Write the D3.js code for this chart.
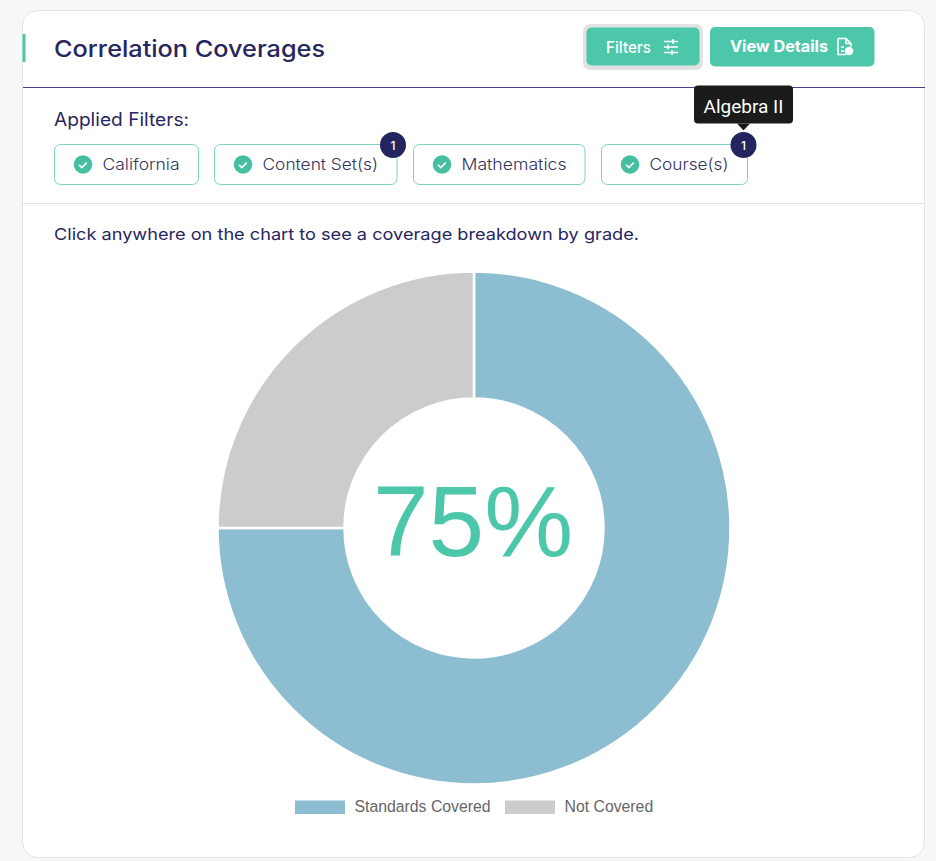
<!DOCTYPE html>
<html>
<head>
<meta charset="utf-8">
<script src="https://cdn.jsdelivr.net/npm/d3@7"></script>
<style>
html, body { margin: 0; padding: 0; background: #f7f7f7; overflow: hidden; }
text { font-family: Inter, "Open Sans", sans-serif; }
</style>
</head>
<body>
<div id="chart"></div>
<script>
// chart values
const categories = ["Standards Covered", "Not Covered"];
const coverage = [75, 25];
const centerLabel = "75%";
const filterNames = ["California", "Content Set(s)", "Mathematics", "Course(s)"];
const filterCounts = [null, 1, null, 1];

const navy = "#27265f", teal = "#4dc7aa";

const svg = d3.select("#chart").append("svg")
    .attr("width", 936)
    .attr("height", 861)
    .style("display", "block");

// card
svg.append("rect")
    .attr("x", 22.5).attr("y", 10.5)
    .attr("width", 902).attr("height", 847)
    .attr("rx", 15)
    .attr("fill", "#fff")
    .attr("stroke", "#e4e4e6");

svg.append("rect").attr("x", 22.5).attr("y", 34).attr("width", 3).attr("height", 28).attr("fill", teal);
svg.append("line").attr("x1", 23).attr("x2", 925).attr("y1", 87.5).attr("y2", 87.5).attr("stroke", "#44438a");
svg.append("line").attr("x1", 23).attr("x2", 925).attr("y1", 203.5).attr("y2", 203.5).attr("stroke", "#e2e2ea");

function label(x, y, str, size, weight, color, len) {
    const t = svg.append("text")
        .attr("x", x).attr("y", y)
        .attr("font-size", size)
        .attr("font-weight", weight)
        .attr("fill", color)
        .text(str);
    if (len) t.attr("textLength", len).attr("lengthAdjust", "spacingAndGlyphs");
    return t;
}

label(54, 56.5, "Correlation Coverages", 23.5, 500, navy, 271);
label(54, 125.5, "Applied Filters:", 18, 400, navy, 135);
label(54, 240, "Click anywhere on the chart to see a coverage breakdown by grade.", 16.5, 400, navy, 585);

// header buttons
svg.append("rect").attr("x", 583).attr("y", 24).attr("width", 120).attr("height", 46).attr("rx", 7).attr("fill", "#e2e2e2");
svg.append("rect").attr("x", 586.5).attr("y", 27.5).attr("width", 113).attr("height", 38).attr("rx", 5).attr("fill", teal);
svg.append("rect").attr("x", 710).attr("y", 27).attr("width", 164.5).attr("height", 39.5).attr("rx", 5).attr("fill", teal);
label(606, 53, "Filters", 16, 500, "#fff", 45);
label(730, 52, "View Details", 16, 700, "#fff", 98);

// sliders icon
const sliders = svg.append("g").attr("stroke", "#fff").attr("stroke-width", 1.5).attr("fill", "none");
[[41.5, 664, 678, 673], [47, 664, 678, 668], [52.5, 664, 678, 672]].forEach(([y, a, b, k]) => {
    sliders.append("line").attr("x1", a).attr("x2", b).attr("y1", y).attr("y2", y);
    sliders.append("line").attr("x1", k).attr("x2", k).attr("y1", y - 2.5).attr("y2", y + 2.5);
});
// file icon
const file = svg.append("g");
file.append("path").attr("d", "M838 38.5h8l5 5v3M838 38.5v16h8M846 38.5v5h5M841 47h3M841 51h3")
    .attr("fill", "none").attr("stroke", "#fff").attr("stroke-width", 1.6);
file.append("circle").attr("cx", 849).attr("cy", 51).attr("r", 4.3).attr("fill", "#fff");

// filter chips
const chipX = [54.5, 214.5, 413.5, 601.5];
const chipW = [144, 182.5, 171.5, 146];
const chipText = [77, 115.5, 105, 79];
filterNames.forEach((name, i) => {
    svg.append("rect")
        .attr("x", chipX[i]).attr("y", 144.5)
        .attr("width", chipW[i]).attr("height", 40)
        .attr("rx", 6)
        .attr("fill", "#fff")
        .attr("stroke", "#7fd3be");
    const cx = chipX[i] + 28.5;
    svg.append("circle").attr("cx", cx).attr("cy", 164.5).attr("r", 9.3).attr("fill", "#45bf9f");
    svg.append("path")
        .attr("d", `M${cx - 4} 164.8l2.8 2.8l5 -5`)
        .attr("fill", "none").attr("stroke", "#fff").attr("stroke-width", 1.6);
    label(chipX[i] + 48, 170, name, 16, 300, "#34345f", chipText[i]);
    if (filterCounts[i] != null) {
        const bx = chipX[i] + chipW[i] - 4;
        svg.append("circle").attr("cx", bx).attr("cy", 145).attr("r", 13).attr("fill", "#24245e");
        label(bx, 149.5, filterCounts[i], 12, 500, "#fff").attr("text-anchor", "middle");
    }
});

// tooltip
svg.append("rect").attr("x", 694).attr("y", 85.5).attr("width", 99).attr("height", 38).attr("rx", 4).attr("fill", "#1b1b1b");
svg.append("path").attr("d", "M737 123.5h13l-6.5 7z").attr("fill", "#1b1b1b");
svg.append("text")
    .attr("x", 743.5).attr("y", 112.5)
    .attr("text-anchor", "middle")
    .attr("font-size", 19)
    .attr("fill", "#fff")
    .style("font-family", "Roboto, sans-serif")
    .text("Algebra II");

// donut
const color = d3.scaleOrdinal().domain(categories).range(["#8dbdd0", "#cccccc"]);
const pie = d3.pie().sort(null);
const arc = d3.arc().innerRadius(129.5).outerRadius(256.5);

const donut = svg.append("g").attr("transform", "translate(474,528)");
donut.selectAll("path")
    .data(pie(coverage))
    .enter().append("path")
      .attr("d", arc)
      .attr("fill", (d, i) => color(categories[i]))
      .attr("stroke", "#fff")
      .attr("stroke-width", 2.5);

donut.append("text")
    .attr("x", -1).attr("y", 28)
    .attr("text-anchor", "middle")
    .attr("font-size", 100)
    .attr("fill", teal)
    .style("font-family", "'Liberation Sans', Arial, sans-serif")
    .text(centerLabel);

// legend
const legendSwatchX = [295, 505];
const legendTextX = [354.5, 564.5];
categories.forEach((name, i) => {
    svg.append("rect")
        .attr("x", legendSwatchX[i]).attr("y", 800.5)
        .attr("width", 50).attr("height", 13.5)
        .attr("fill", color(name));
    svg.append("text")
        .attr("x", legendTextX[i]).attr("y", 812)
        .attr("font-size", 15.8)
        .attr("fill", "#666")
        .style("font-family", "'Liberation Sans', Arial, sans-serif")
        .text(name);
});
</script>
</body>
</html>
